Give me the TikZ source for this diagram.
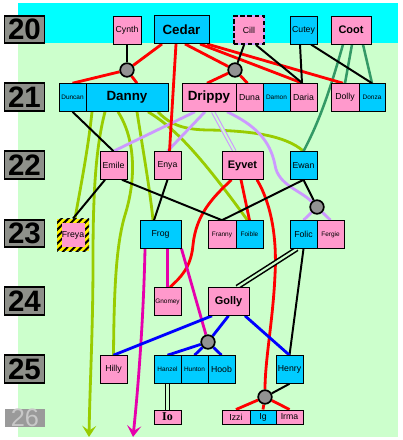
\documentclass[tikz,border=0pt]{standalone}
\usepackage{fontspec}
\setsansfont{Liberation Sans}
\newfontfamily\serifbold{Liberation Serif}
\usetikzlibrary{calc,patterns.meta,arrows.meta}
\definecolor{skyc}{HTML}{00FFFF}
\definecolor{meadow}{HTML}{CCFFCC}
\definecolor{boyc}{HTML}{00CCFF}
\definecolor{girlc}{HTML}{FF99CC}
\definecolor{grassc}{HTML}{99CC00}
\definecolor{seac}{HTML}{339966}
\definecolor{lilacc}{HTML}{CC99FF}
\definecolor{magc}{HTML}{E600AC}
\definecolor{knotc}{HTML}{929292}
\definecolor{tagc}{RGB}{142,144,138}
\definecolor{fadec}{HTML}{9A9A9A}
\definecolor{fadetext}{HTML}{C8C8C8}
\pgfdeclarelayer{back}
\pgfdeclarelayer{links}
\pgfsetlayers{back,links,main}
\begin{document}
\begin{tikzpicture}[x=0.025cm,y=-0.025cm,
    pers/.style={draw,line width=0.7pt,inner sep=0pt,minimum height=0.69cm,font=\sffamily\fontsize{6.2}{7}\selectfont},
    wd/.style={minimum width=#1*0.025cm},
    boy/.style={pers,fill=boyc},
    girl/.style={pers,fill=girlc},
    tiny/.style={font=\sffamily\fontsize{4.6}{5}\selectfont},
    big/.style={font=\sffamily\bfseries\fontsize{9.5}{11}\selectfont},
    mid/.style={font=\sffamily\bfseries\fontsize{7.8}{9}\selectfont},
    knot/.style={circle,draw,line width=1.2pt,fill=knotc,inner sep=0pt,minimum size=0.34cm},
    gen/.style={draw,line width=1.4pt,fill=tagc,minimum width=1.0cm,minimum height=0.68cm,inner sep=0pt,font=\sffamily\bfseries\fontsize{21}{21}\selectfont},
    bloodln/.style={draw=red,line width=2pt},
    inkln/.style={draw=black,line width=1.4pt},
    grassln/.style={draw=grassc,line width=2pt},
    sealn/.style={draw=seac,line width=1.8pt},
    lilacln/.style={draw=lilacc,line width=2pt},
    magln/.style={draw=magc,line width=2pt},
    blueln/.style={draw=blue,line width=2pt},
    twin/.style={draw=black,line width=1.1pt,double=meadow,double distance=1.5pt},
    twinlilac/.style={draw=lilacc,line width=0.8pt,double=meadow,double distance=1.4pt},
    tip/.style={-{Stealth[length=8pt,width=10pt,inset=3.5pt]}}
]
\useasboundingbox (0,0) rectangle (402,440);

% generation tags
\foreach \yr/\yy in {20/29.5,21/97,22/165,23/233.5,24/301,25/369}
  \node[gen] (g\yr) at (24.5,\yy) {\yr};
\node[gen,draw=none,fill=fadec,minimum height=0.45cm,text=fadetext,font=\sffamily\fontsize{18}{18}\selectfont] (g26) at (25,418) {26};

% row 20
\node[girl,wd=28,minimum height=0.7cm] (cynth) at (127,30) {Cynth};
\node[boy,wd=55,minimum height=0.7cm,big] (cedar) at (181.5,29.5) {Cedar};
\node[girl,wd=30,minimum height=0.7cm,draw=lilacc,line width=1.4pt,
      postaction={draw=black,line width=1.4pt,dash pattern=on 3pt off 2pt}] (cill) at (249,30) {Cill};
\node[boy,wd=27,minimum height=0.7cm] (cutey) at (303.5,30) {Cutey};
\node[girl,wd=40,minimum height=0.7cm,mid] (coot) at (351,30) {Coot};

% row 21
\node[boy,wd=27,tiny] (duncan) at (72.5,97.5) {Duncan};
\node[boy,wd=82,big] (danny) at (127,97.5) {Danny};
\node[girl,wd=54,big] (drippy) at (209,97.5) {Drippy};
\node[girl,wd=27] (duna) at (249.5,97.5) {Duna};
\node[boy,wd=27,tiny] (damon) at (276.5,97.5) {Damon};
\node[girl,wd=27] (daria) at (303.5,97.5) {Daria};
\node[girl,wd=28] (dolly) at (345,97.5) {Dolly};
\node[boy,wd=26,tiny] (donza) at (372,97.5) {Donza};

% row 22
\node[girl,wd=27] (emile) at (113.5,165.5) {Emile};
\node[girl,wd=27] (enya) at (167.5,165.5) {Enya};
\node[girl,wd=41,mid] (eyvet) at (242.5,165.5) {Eyvet};
\node[boy,wd=27] (ewan) at (303.5,165.5) {Ewan};

% row 23
\node[pers,draw=none,fill=yellow,wd=32,minimum height=0.8cm,
      postaction={pattern={Lines[angle=45,distance=3.5pt,line width=1.4pt]},pattern color=black}] (freya) at (73,235) {};
\node[pers,draw=none,fill=girlc,wd=23,minimum height=0.6cm] (freyain) at (freya.center) {Freya};
\node[boy,wd=41] (frog) at (160.5,234.5) {Frog};
\node[girl,wd=28,tiny] (franny) at (222,234.5) {Franny};
\node[boy,wd=27,tiny] (foible) at (249.5,234.5) {Foible};
\node[boy,wd=27] (folic) at (303.5,234.5) {Folic};
\node[girl,wd=27,tiny] (fergie) at (330.5,234.5) {Fergie};

% row 24
\node[girl,wd=27,tiny] (gnomey) at (167.5,301.5) {Gnomey};
\node[girl,wd=41,mid] (golly) at (228.5,301.5) {Golly};

% row 25
\node[girl,wd=27] (hilly) at (113.5,369.5) {Hilly};
\node[boy,wd=27,tiny] (hanzel) at (167.5,369.5) {Hanzel};
\node[boy,wd=27,tiny] (hunton) at (194.5,369.5) {Hunton};
\node[boy,wd=27] (hoob) at (221.5,369.5) {Hoob};
\node[boy,wd=27] (henry) at (289.5,369.5) {Henry};

% row 26
\node[girl,wd=27,minimum height=0.35cm,font=\serifbold\bfseries\fontsize{8.5}{9}\selectfont] (io) at (167.5,417) {Io};
\node[girl,wd=28,minimum height=0.35cm] (izzi) at (236,417) {Izzi};
\node[boy,wd=26,minimum height=0.35cm] (ig) at (263,417) {Ig};
\node[girl,wd=27,minimum height=0.35cm] (irma) at (289.5,417) {Irma};

% unions
\node[knot] (u1) at (127,70) {};
\node[knot] (u2) at (235,70) {};
\node[knot] (u3) at (317,207) {};
\node[knot] (u4) at (208,342) {};
\node[knot] (u5) at (265,397) {};

\coordinate (outgrass) at (89,437);
\coordinate (outmag) at (133,437);

\begin{pgfonlayer}{back}
\fill[white] (0,0) rectangle (402,440);
\fill[meadow] (18,43) rectangle (398,437);
\fill[skyc] (18,3) rectangle (398,43);
\end{pgfonlayer}

\begin{pgfonlayer}{links}
% Danny's lines
\draw[grassln] ($(danny.south)+(-35,0)$) .. controls (88,150) and (80,190) .. ($(freya.north)+(2,0)$);
\draw[grassln,tip] ($(danny.south)+(-22,0)$) .. controls (95,150) and (93,200) .. (93,260) .. controls (93,330) and (90,380) .. (outgrass);
\draw[grassln] ($(danny.south)+(-9,0)$) .. controls (136,140) and (136,180) .. (125,215) .. controls (116,245) and (114,290) .. (hilly.north);
\draw[grassln] ($(danny.south)+(10,0)$) .. controls (143,150) and (150,190) .. ($(frog.north)+(-7.5,0)$);
\draw[grassln] ($(danny.south)+(21,0)$) .. controls (175,128) and (200,155) .. ($(foible.north)+(-2,0)$);
\draw[grassln] ($(danny.south)+(31,0)$) .. controls (170,125) and (185,130) .. (210,130) .. controls (250,131) and (285,135) .. (ewan.north);
% Coot's lines
\draw[sealn] ($(coot.south)+(-8,0)$) .. controls (330,90) and (320,120) .. (ewan.north);
\draw[sealn] ($(coot.south)+(1,0)$) -- (dolly.north);
\draw[sealn] ($(coot.south)+(12,0)$) -- (donza.north);
% Drippy's lines
\draw[lilacln] ($(drippy.south)+(-14,0)$) -- (emile.north);
\draw[lilacln] ($(drippy.south)+(-4,0)$) -- (enya.north);
\draw[twinlilac] ($(drippy.south)+(4,0)$) -- ($(eyvet.north)+(-8,0)$);
\draw[lilacln] ($(drippy.south)+(18,0)$) .. controls (255,125) and (270,140) .. (275,165) .. controls (278,185) and (300,190) .. (u3);
\draw[lilacln] (u3) -- (folic.north);
\draw[lilacln] (u3) -- (fergie.north);
% Cedar's lines
\draw[bloodln] ($(cedar.south)+(-19.5,0)$) -- (u1);
\draw[bloodln] (u1) -- (duncan.north);
\draw[bloodln] (u1) -- ($(danny.north)+(10,0)$);
\draw[bloodln] ($(cedar.south)+(-5.5,0)$) -- ($(enya.north)+(2,0)$);
\draw[bloodln] ($(cedar.south)+(3.5,0)$) -- (u2);
\draw[bloodln] (u2) -- ($(drippy.north)+(-2,0)$);
\draw[bloodln] (u2) -- ($(duna.north)+(-2,0)$);
\draw[bloodln] ($(cedar.south)+(18.5,0)$) -- ($(daria.north)+(-1,0)$);
\draw[bloodln] ($(cedar.south)+(25.5,0)$) -- ($(dolly.north)+(-2,0)$);
% Eyvet's lines
\draw[bloodln] ($(eyvet.south)+(-11,0)$) .. controls (212,198) and (196,215) .. (193,245) .. controls (191,268) and (180,278) .. ($(gnomey.north)+(2.5,0)$);
\draw[bloodln] ($(eyvet.south)+(-1.5,0)$) -- (foible.north);
\draw[bloodln] ($(eyvet.south)+(14.5,0)$) .. controls (272,205) and (277,240) .. (275,275) .. controls (273,320) and (265,360) .. (u5);
\draw[bloodln] (u5) -- (izzi.north);
\draw[bloodln] (u5) -- (ig.north);
\draw[bloodln] (u5) -- (irma.north);
% black lines
\draw[inkln] (cynth) -- (u1);
\draw[inkln] ($(cill.south)+(-5,0)$) -- (u2);
\draw[inkln] ($(cill.south)+(7,0)$) -- ($(daria.north)+(-1,0)$);
\draw[inkln] ($(cutey.south)+(-3.5,0)$) -- ($(daria.north)+(-1.5,0)$);
\draw[inkln] ($(cutey.south)+(7.5,0)$) -- (donza.north);
\draw[inkln] (duncan.south) -- (emile.north);
\draw[inkln] ($(emile.south)+(-8.5,0)$) -- (freya.north);
\draw[inkln] ($(emile.south)+(8.5,0)$) -- (franny.north);
\draw[inkln] (enya.south) -- ($(frog.north)+(-6.5,0)$);
\draw[inkln] (ewan.south) -- (franny.north);
\draw[inkln] (ewan.south) -- (u3);
\draw[twin] ($(folic.south)+(-6.5,0)$) -- ($(golly.north)+(8.5,0)$);
\draw[inkln] (folic.south) -- (henry.north);
\draw[inkln] (henry.south) -- (u5);
\draw[twin] (hanzel.south) -- (io.north);
% Frog's lines
\draw[magln,tip] ($(frog.south)+(-15.5,0)$) .. controls (144,300) and (140,370) .. (outmag);
\draw[magln] ($(frog.south)+(7,0)$) -- (gnomey.north);
\draw[magln] ($(frog.south)+(21,0)$) -- (u4);
% Golly's lines
\draw[blueln] ($(golly.south)+(-16.5,0)$) -- (hilly.north);
\draw[blueln] (golly.south) -- (u4);
\draw[blueln] ($(golly.south)+(16.5,0)$) -- (henry.north);
\draw[blueln] (u4) -- (hanzel.north);
\draw[blueln] (u4) -- (hunton.north);
\draw[blueln] (u4) -- (hoob.north);
\end{pgfonlayer}
\end{tikzpicture}
\end{document}
